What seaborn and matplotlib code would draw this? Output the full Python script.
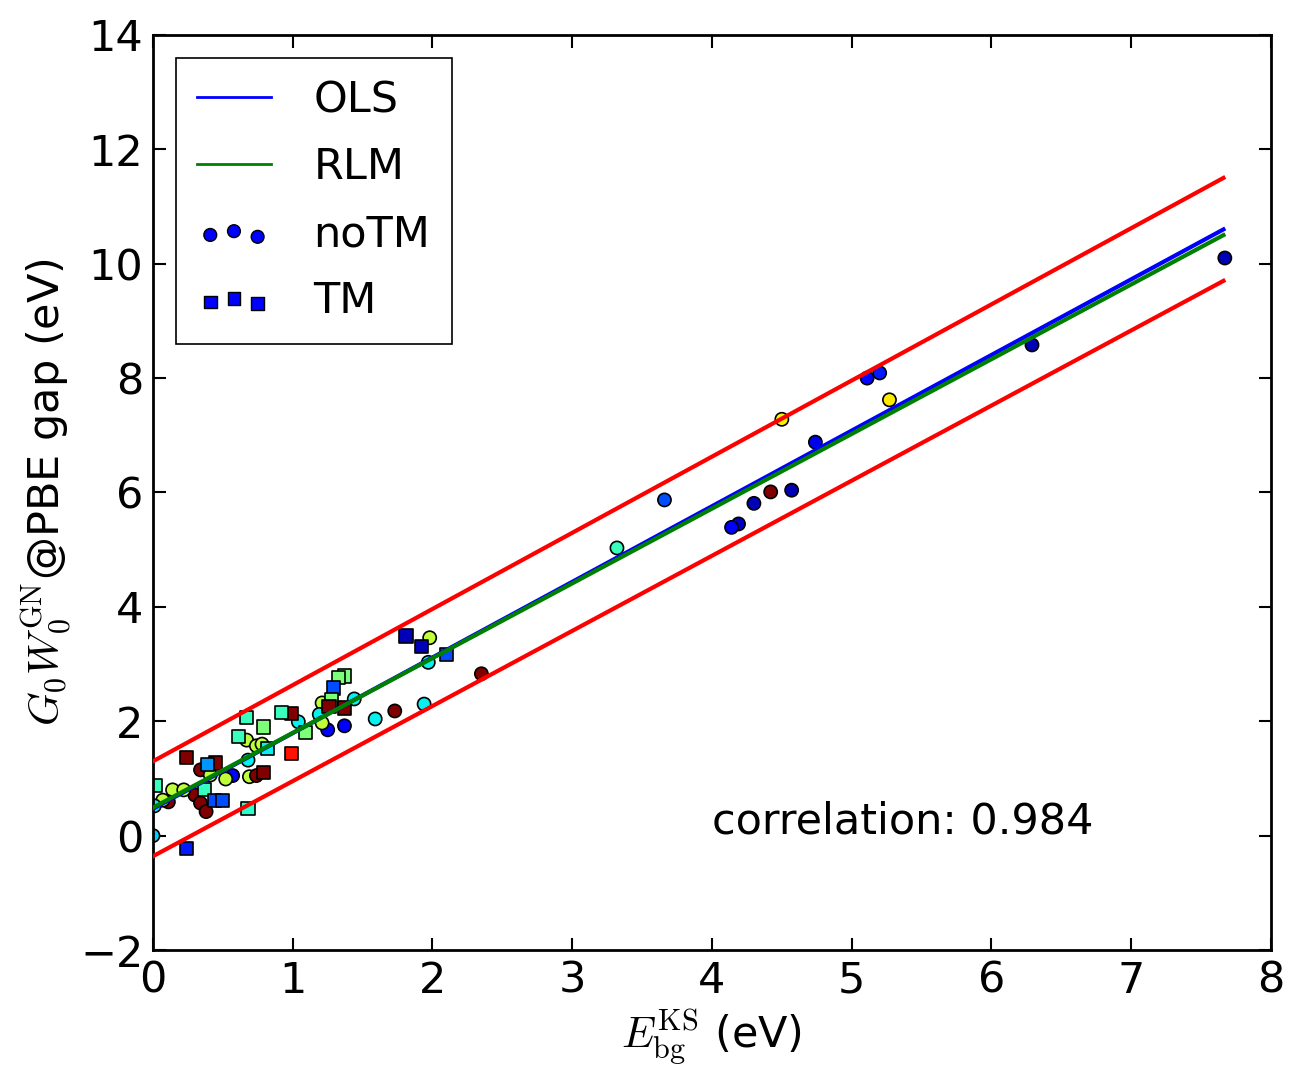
import numpy as np
import pandas as pd
import matplotlib
matplotlib.use("Agg")
import matplotlib.pyplot as plt
import seaborn as sns
from matplotlib.lines import Line2D

# ---------------- data ----------------
notm_x = [7.67, 6.29, 5.11, 5.20, 5.27, 4.50, 4.74, 4.57, 4.42, 4.30, 4.19, 4.14,
          3.66, 3.32, 2.35, 1.98, 1.97, 1.94, 1.73, 1.59, 1.37, 1.25, 1.44, 1.21,
          1.19, 1.21, 1.04, 0.67, 0.74, 0.78, 0.68, 0.69, 0.74, 0.57, 0.52, 0.34,
          0.41, 0.30, 0.34, 0.38, 0.14, 0.22, 0.11, 0.07, 0.01, 0.00]
notm_y = [10.10, 8.58, 8.00, 8.09, 7.62, 7.28, 6.88, 6.04, 6.01, 5.81, 5.45, 5.39,
          5.87, 5.03, 2.83, 3.46, 3.03, 2.30, 2.18, 2.04, 1.92, 1.85, 2.39, 2.32,
          2.12, 1.97, 1.99, 1.67, 1.57, 1.60, 1.32, 1.03, 1.05, 1.05, 0.99, 1.15,
          1.06, 0.71, 0.57, 0.42, 0.80, 0.80, 0.59, 0.62, 0.52, 0.00]
notm_c = [0.05, 0.05, 0.13, 0.15, 0.66, 0.65, 0.10, 0.05, 1.00, 0.05, 0.06, 0.12,
          0.20, 0.42, 1.00, 0.58, 0.36, 0.36, 1.00, 0.36, 0.12, 0.13, 0.36, 0.58,
          0.36, 0.58, 0.36, 0.58, 0.58, 0.58, 0.36, 0.58, 1.00, 0.13, 0.58, 1.00,
          0.58, 1.00, 1.00, 1.00, 0.58, 0.58, 1.00, 0.58, 0.36, 0.33]

tm_x = [2.10, 1.92, 1.81, 1.37, 1.33, 1.29, 1.28, 1.26, 1.37, 1.09, 0.99, 0.99,
        0.92, 0.67, 0.79, 0.61, 0.82, 0.79, 0.68, 0.45, 0.39, 0.24, 0.37, 0.44,
        0.50, 0.02, 0.24]
tm_y = [3.16, 3.30, 3.49, 2.79, 2.77, 2.58, 2.37, 2.26, 2.23, 1.81, 1.43, 2.14,
        2.16, 2.06, 1.90, 1.74, 1.53, 1.10, 0.47, 1.27, 1.25, 1.36, 0.80, 0.62,
        0.61, 0.87, -0.22]
tm_c = [0.20, 0.05, 0.05, 0.50, 0.50, 0.20, 0.50, 1.00, 1.00, 0.50, 0.89, 1.00,
        0.42, 0.42, 0.50, 0.42, 0.36, 1.00, 0.40, 1.00, 0.27, 1.00, 0.42, 0.20,
        0.20, 0.42, 0.15]

# fitted lines (end points)
line_x = [0.0, 7.66]
ols_y = [0.47, 10.60]
rlm_y = [0.49, 10.50]
upper_y = [1.30, 11.50]
lower_y = [-0.36, 9.70]

correlation = 0.984

x_ticks = [0, 1, 2, 3, 4, 5, 6, 7, 8]
y_ticks = [-2, 0, 2, 4, 6, 8, 10, 12, 14]

# ---------------- plot ----------------
plt.rcParams['mathtext.fontset'] = 'cm'
plt.rcParams['font.family'] = ['DejaVu Sans']
jet = matplotlib.colormaps['jet']
FS = 31

fig = plt.figure(figsize=(12.89, 10.72), dpi=100)
ax = fig.add_axes([0.1187, 0.1138, 0.8673, 0.8536])

df_n = pd.DataFrame({'x': notm_x, 'y': notm_y, 'c': notm_c})
df_t = pd.DataFrame({'x': tm_x, 'y': tm_y, 'c': tm_c})

sns.scatterplot(data=df_n, x='x', y='y', hue='c', palette=jet, hue_norm=(0, 1),
                marker='o', s=90, edgecolor='black', linewidth=1.2, legend=False,
                ax=ax, zorder=2)
sns.scatterplot(data=df_t, x='x', y='y', hue='c', palette=jet, hue_norm=(0, 1),
                marker='s', s=90, edgecolor='black', linewidth=1.2, legend=False,
                ax=ax, zorder=2)

sns.lineplot(x=line_x, y=upper_y, color='red', lw=3, ax=ax, zorder=3)
sns.lineplot(x=line_x, y=lower_y, color='red', lw=3, ax=ax, zorder=3)
sns.lineplot(x=line_x, y=ols_y, color='blue', lw=3, ax=ax, zorder=3)
sns.lineplot(x=line_x, y=rlm_y, color='green', lw=3, ax=ax, zorder=4)

ax.set_xlim(0, 8)
ax.set_ylim(-2, 14)
ax.set_xticks(x_ticks)
ax.set_yticks(y_ticks)
ax.set_yticklabels(['\u22122' if t < 0 else str(t) for t in y_ticks])
ax.tick_params(direction='in', length=9, width=1.5, labelsize=FS,
               top=True, right=True, pad=7)
for s in ax.spines.values():
    s.set_linewidth(2)
    s.set_color('black')

ax.set_xlabel(r'$E_{\rm bg}^{\rm KS}$ (eV)', fontsize=FS, labelpad=4)
ax.set_ylabel(r'$G_0W_0^{\rm GN}$@PBE gap (eV)', fontsize=FS, labelpad=4)

ax.text(4.0, 0.25, f'correlation: {correlation}', fontsize=FS,
        ha='left', va='center')

h_ols = Line2D([], [], color='blue', lw=2)
h_rlm = Line2D([], [], color='green', lw=2)
h_n = ax.scatter([], [], marker='o', s=85, c='blue', edgecolors='black', linewidths=1)
h_t = ax.scatter([], [], marker='s', s=85, c='blue', edgecolors='black', linewidths=1)
leg = ax.legend([h_ols, h_rlm, h_n, h_t], ['OLS', 'RLM', 'noTM', 'TM'],
                loc='upper left', fontsize=FS, scatterpoints=3,
                scatteryoffsets=[0.375, 0.5, 0.3125], fancybox=False,
                framealpha=1, edgecolor='black', handlelength=1.7,
                handletextpad=1.0, borderpad=0.5, labelspacing=0.58,
                borderaxespad=0.53)
leg.get_frame().set_linewidth(1.2)

fig.savefig('out.png', dpi=100)
